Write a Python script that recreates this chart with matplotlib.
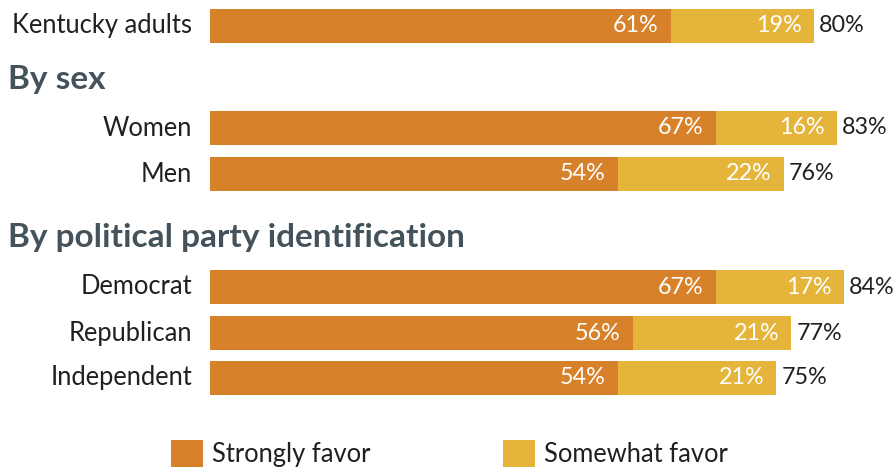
import matplotlib.pyplot as plt

# values (percent)
groups = ["Kentucky adults", "Women", "Men", "Democrat", "Republican", "Independent"]
strongly = [61, 67, 54, 67, 56, 54]
somewhat = [19, 16, 22, 17, 21, 21]
totals = [80, 83, 76, 84, 77, 75]
headings = ["By sex", "By political party identification"]
legend_labels = ["Strongly favor", "Somewhat favor"]

ORANGE = "#d8812b"
YELLOW = "#e5b53b"
DARK = "#231f20"
SLATE = "#44525c"
FONT = "Lato"

plt.rcParams["font.family"] = [FONT, "DejaVu Sans"]

W, H = 896, 469
fig = plt.figure(figsize=(W / 100, H / 100), dpi=100)

# axes: x=0 at pixel 210, 7.55 px per percent; y in pixel rows (0 at top)
left_px, px_per_pct = 210, 7.55
ax = fig.add_axes([left_px / W, 0, 1 - left_px / W, 1])
ax.set_xlim(0, (W - left_px) / px_per_pct)
ax.set_ylim(H, 0)
ax.axis("off")

# layout: bar centers and heading centers in pixel rows
centers = [26, 128, 174, 287, 333, 378]
heading_y = [79, 237]
bar_h = 34

ax.barh(centers, strongly, height=bar_h, color=ORANGE, label=legend_labels[0])
ax.barh(centers, somewhat, left=strongly, height=bar_h, color=YELLOW, label=legend_labels[1])

num_fs = 16.8
word_fs = 18.4
pad = 12 / px_per_pct
for y, s, w, t, name in zip(centers, strongly, somewhat, totals, groups):
    ax.text(s - pad, y, f"{s}%", color="white", fontsize=num_fs, ha="right", va="center")
    ax.text(s + w - pad, y, f"{w}%", color="white", fontsize=num_fs, ha="right", va="center")
    ax.text(s + w + 5 / px_per_pct, y, f"{t}%", color=DARK, fontsize=num_fs,
            ha="left", va="center")
    ax.text(-18 / px_per_pct, y, name, color=DARK, fontsize=word_fs, ha="right", va="center")

for y, h in zip(heading_y, headings):
    ax.text(-202 / px_per_pct, y, h, color=SLATE, fontsize=24, fontweight="bold",
            ha="left", va="center")

leg = fig.legend(loc="upper left", bbox_to_anchor=(171 / W, 1 - 440 / H), ncol=2,
                 frameon=False, fontsize=word_fs, handlelength=1.25, handleheight=1.25,
                 handletextpad=0.35, columnspacing=5.2, labelcolor=DARK,
                 borderpad=0, borderaxespad=0)

fig.savefig("out.png", dpi=100)
